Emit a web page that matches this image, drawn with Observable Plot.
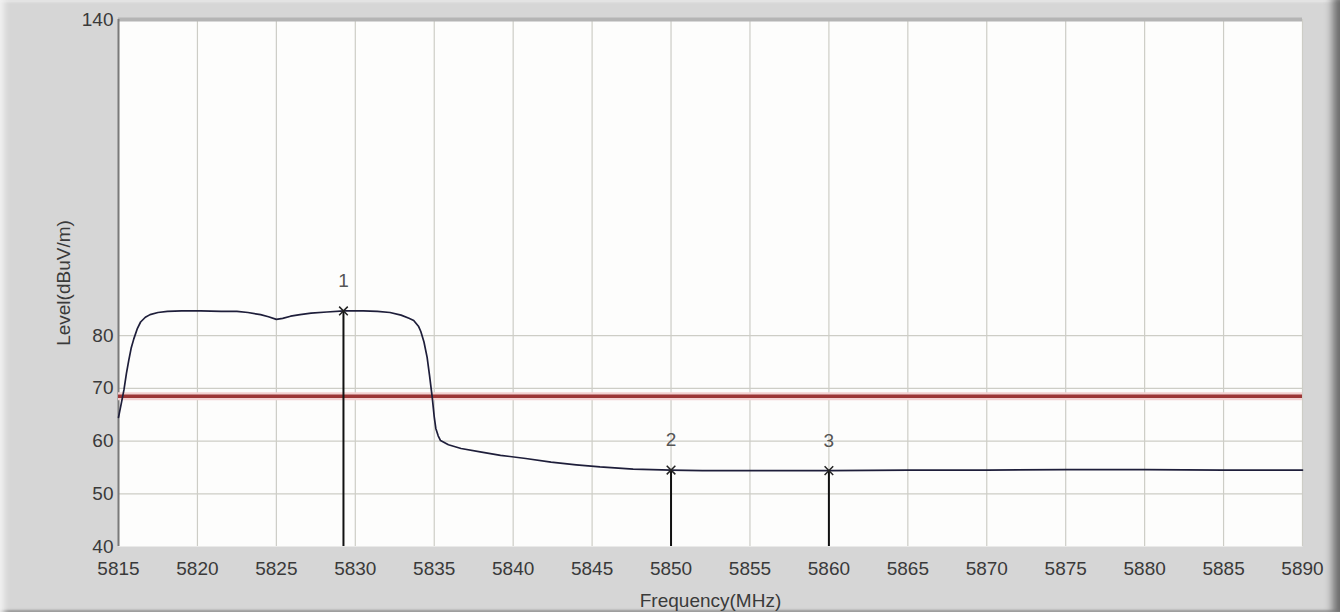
<!DOCTYPE html>
<html>
<head>
<meta charset="utf-8">
<script src="https://cdn.jsdelivr.net/npm/d3@7"></script>
<script src="https://cdn.jsdelivr.net/npm/@observablehq/plot@0.6"></script>
<style>
  html, body { margin: 0; padding: 0; background: #d6d6d6; }
  #wrap {
    position: relative; width: 1340px; height: 612px; overflow: hidden;
    background: #d6d6d6;
    box-shadow: inset 8px 0 6px -4px #f2f2f2, inset -12px 0 8px -5px #6a6a6a, inset 0 -4px 2px -2px #9a9a9a, inset 0 4px 3px -2px #f4f4f4;
  }
  #wrap svg { position: absolute; left: 0; top: 0; }
</style>
</head>
<body>
<div id="wrap"></div>
<script>
// Measured trace (Frequency in MHz, Level in dBuV/m)
const freqs = [5815.0, 5815.2, 5815.35, 5815.5, 5815.65, 5815.8, 5815.97, 5816.2, 5816.4, 5816.7,
  5817.0, 5817.5, 5818.1, 5819.0, 5820.2, 5821.5, 5822.5, 5823.2, 5824.0, 5824.5,
  5825.0, 5825.4, 5825.9, 5826.5, 5827.2, 5828.2, 5829.3, 5830.5, 5831.4, 5832.2,
  5832.9, 5833.4, 5833.7, 5834.0, 5834.15, 5834.35, 5834.55, 5834.7, 5834.87, 5835.0,
  5835.1, 5835.25, 5835.4, 5835.9, 5836.7, 5838.0, 5839.2, 5840.8, 5842.4, 5844.0,
  5845.5, 5847.6, 5850.0, 5852.0, 5855.0, 5860.0, 5865.0, 5870.0, 5875.0, 5880.0,
  5885.0, 5890.0];
const levels = [64.5, 67.5, 69.8, 72.8, 75.3, 77.6, 79.4, 81.4, 82.6, 83.5,
  84.0, 84.4, 84.6, 84.7, 84.7, 84.6, 84.6, 84.4, 84.0, 83.6,
  83.1, 83.3, 83.7, 84.0, 84.3, 84.5, 84.7, 84.7, 84.6, 84.4,
  83.9, 83.3, 82.9, 81.8, 80.8, 78.8, 75.9, 72.5, 68.4, 64.6,
  62.4, 61.0, 60.1, 59.3, 58.6, 57.9, 57.3, 56.7, 56.0, 55.5,
  55.1, 54.7, 54.5, 54.4, 54.4, 54.4, 54.5, 54.5, 54.6, 54.6,
  54.5, 54.5];

const limitLevel = 68.5;

const markerLabels = ["1", "2", "3"];
const markerFreqs = [5829.25, 5850.0, 5860.0];
const markerLevels = [84.7, 54.5, 54.4];

const xTicks = d3.range(5815, 5891, 5);
const yTicks = [40, 50, 60, 70, 80, 140];
const yGrid = [50, 60, 70, 80];

const trace = freqs.map((f, i) => ({f, l: levels[i]}));
const markers = markerLabels.map((t, i) => ({t, f: markerFreqs[i], l: markerLevels[i]}));

const chart = Plot.plot({
  width: 1340,
  height: 612,
  marginLeft: 118,
  marginTop: 19,
  marginRight: 38,
  marginBottom: 66,
  style: {background: "transparent", fontFamily: "Liberation Sans, Arial, sans-serif", fontSize: "19px", color: "#3a3a3a"},
  x: {domain: [5815, 5890]},
  y: {domain: [40, 140]},
  marks: [
    Plot.frame({fill: "#fdfdfc", stroke: null}),
    Plot.gridX(xTicks, {stroke: "#cdcdc6", strokeOpacity: 1, strokeWidth: 1.2}),
    Plot.gridY(yGrid, {stroke: "#cdcdc6", strokeOpacity: 1, strokeWidth: 1.2}),
    Plot.ruleY([140], {stroke: "#b4b4b4", strokeWidth: 4}),
    Plot.ruleX([5815], {stroke: "#7a7a7a", strokeWidth: 2}),
    Plot.ruleY([limitLevel], {stroke: "#f3d2d2", strokeWidth: 8}),
    Plot.ruleY([limitLevel], {stroke: "#9c3636", strokeWidth: 3.5}),
    Plot.ruleX(markers, {x: "f", y1: "l", y2: () => 40, stroke: "#111", strokeWidth: 2}),
    Plot.line(trace, {x: "f", y: "l", stroke: "#1e1e3a", strokeWidth: 1.7}),
    Plot.dot(markers, {x: "f", y: "l", symbol: "times", r: 4, stroke: "#222", strokeWidth: 1.5}),
    Plot.text(markers, {x: "f", y: "l", text: "t", dy: -30, fill: "#555", fontSize: 19}),
    Plot.axisX(xTicks, {tickSize: 0, tickPadding: 15, tickFormat: "d", fill: "#3a3a3a", label: "Frequency(MHz)", labelAnchor: "center", labelArrow: "none", labelOffset: 60}),
    Plot.axisY(yTicks, {tickSize: 0, tickPadding: 5, tickFormat: "d", fill: "#3a3a3a", label: "Level(dBuV/m)", labelAnchor: "center", labelArrow: "none", labelOffset: 62})
  ]
});
document.getElementById("wrap").appendChild(chart);
</script>
</body>
</html>
